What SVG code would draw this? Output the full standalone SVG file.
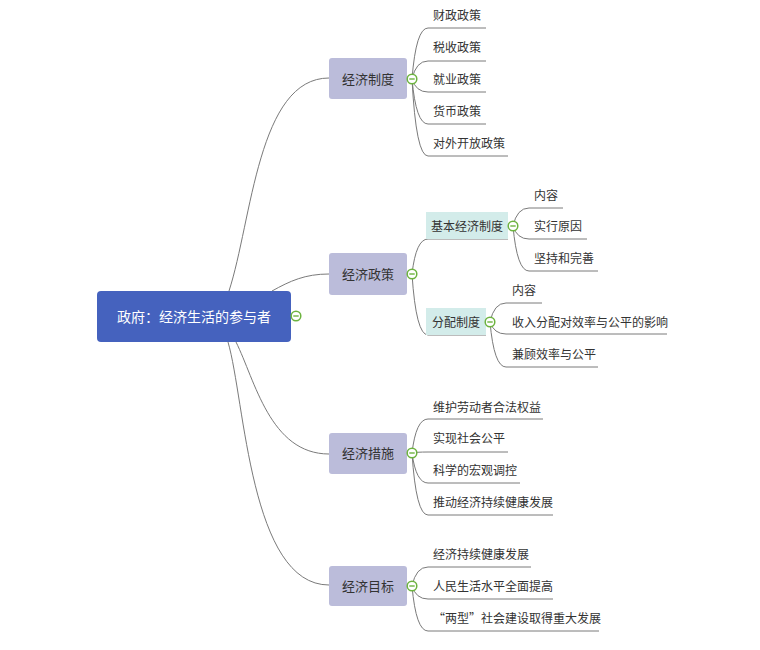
<svg xmlns="http://www.w3.org/2000/svg" width="760" height="650" viewBox="0 0 760 650">
<style>
text{font-family:"Noto Sans CJK SC","Microsoft YaHei",sans-serif;fill:#333;dominant-baseline:central}
.root text{fill:#fff;font-size:14px}
.main rect{fill:#bbbcda}
.main text{font-size:13px}
.sub rect{fill:#d3ecea}
.sub text{font-size:12px}
.leaf{font-size:12px}
.conn path{fill:none;stroke:#7a7a7a;stroke-width:1}
.tog circle{fill:#fff;stroke:#6db33f;stroke-width:1.5}
.tog line{stroke:#6db33f;stroke-width:1.4}
</style>
<defs>
<g id="tg" class="tog"><circle r="4.8"/><line x1="-2.7" y1="0" x2="2.7" y2="0"/></g>
</defs>
<rect width="760" height="650" fill="#fff"/>
<g id="connectors" class="conn">
<path d="M229 291C252 220 258 78 329 78"/>
<path d="M272 291C290 281 305 274 329 274"/>
<path d="M236 342C255 380 270 454 329 454"/>
<path d="M228 342C245 400 250 585 329 585"/>
<path d="M412 79Q416 28 428 28L486 28"/>
<path d="M412 79Q416 61 428 61L486 61"/>
<path d="M412 79Q416 92 428 92L486 92"/>
<path d="M412 79Q416 124 428 124L486 124"/>
<path d="M412 79Q416 156 428 156L508 156"/>
<path d="M412 274Q416 239 428 239L508 239"/>
<path d="M412 274Q416 335 428 335L486 335"/>
<path d="M513 226Q517 208 529 208L563 208"/>
<path d="M513 226Q517 239 529 239L587 239"/>
<path d="M513 226Q517 271 529 271L598 271"/>
<path d="M490 322Q494 303 506 303L542 303"/>
<path d="M490 322Q494 334 506 334L667 334"/>
<path d="M490 322Q494 367 506 367L598 367"/>
<path d="M412 453Q416 419 428 419L543 419"/>
<path d="M412 453Q416 452 428 452L508 452"/>
<path d="M412 453Q416 483 428 483L520 483"/>
<path d="M412 453Q416 515 428 515L553 515"/>
<path d="M412 586Q416 567 428 567L531 567"/>
<path d="M412 586Q416 599 428 599L553 599"/>
<path d="M412 586Q416 631 428 631L599 631"/>
</g>
<g id="root" class="root"><rect x="97" y="291" width="194" height="51" rx="4" fill="#4562be"/><text x="194" y="316" text-anchor="middle">政府：经济生活的参与者</text><use href="#tg" x="296" y="316"/></g>
<g id="n1" class="main"><rect x="329" y="58" width="78" height="41" rx="3"/><text x="368" y="78" text-anchor="middle">经济制度</text><use href="#tg" x="412" y="79"/></g>
<g id="n2" class="main"><rect x="329" y="253" width="78" height="42" rx="3"/><text x="368" y="273" text-anchor="middle">经济政策</text><use href="#tg" x="412" y="274"/></g>
<g id="n3" class="main"><rect x="329" y="433" width="78" height="41" rx="3"/><text x="368" y="452" text-anchor="middle">经济措施</text><use href="#tg" x="412" y="453"/></g>
<g id="n4" class="main"><rect x="329" y="566" width="78" height="40" rx="3"/><text x="368" y="585" text-anchor="middle">经济目标</text><use href="#tg" x="412" y="586"/></g>
<g id="s1" class="sub"><rect x="426" y="212" width="82" height="27"/><text x="467" y="225" text-anchor="middle">基本经济制度</text><use href="#tg" x="513" y="226"/></g>
<g id="s2" class="sub"><rect x="426" y="308" width="60" height="27"/><text x="456" y="321" text-anchor="middle">分配制度</text><use href="#tg" x="490" y="322"/></g>
<g id="leaves" class="leaf">
<g id="l1"><text x="433" y="14">财政政策</text></g>
<g id="l2"><text x="433" y="46">税收政策</text></g>
<g id="l3"><text x="433" y="78">就业政策</text></g>
<g id="l4"><text x="433" y="110">货币政策</text></g>
<g id="l5"><text x="433" y="142">对外开放政策</text></g>
<g id="l6"><text x="534" y="194">内容</text></g>
<g id="l7"><text x="534" y="225">实行原因</text></g>
<g id="l8"><text x="534" y="257">坚持和完善</text></g>
<g id="l9"><text x="512" y="289">内容</text></g>
<g id="l10"><text x="512" y="321">收入分配对效率与公平的影响</text></g>
<g id="l11"><text x="512" y="353">兼顾效率与公平</text></g>
<g id="l12"><text x="433" y="406">维护劳动者合法权益</text></g>
<g id="l13"><text x="433" y="437">实现社会公平</text></g>
<g id="l14"><text x="433" y="469">科学的宏观调控</text></g>
<g id="l15"><text x="433" y="501">推动经济持续健康发展</text></g>
<g id="l16"><text x="433" y="553">经济持续健康发展</text></g>
<g id="l17"><text x="433" y="585">人民生活水平全面提高</text></g>
<g id="l18"><text x="433" y="617">“两型”社会建设取得重大发展</text></g>
</g>
</svg>
